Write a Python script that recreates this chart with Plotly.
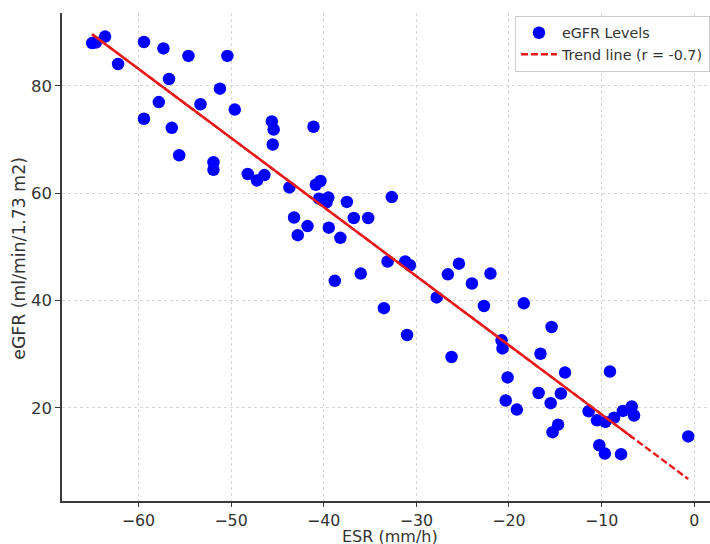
import numpy as np
import plotly.graph_objects as go

# ESR (mm/h) and eGFR (ml/min/1.73 m2) values
esr = [-65.0, -64.6, -63.6, -62.2, -59.4, -57.3, -54.6, -50.4, -56.7, -51.2,
       -57.8, -53.3, -49.6, -59.4, -56.4, -45.6, -45.4, -45.5, -55.6, -51.9,
       -51.9, -48.2, -47.2, -46.4, -43.7, -41.1, -40.85, -40.35, -40.5, -39.5,
       -39.7, -37.5, -32.65, -43.2, -41.75, -42.8, -36.75, -35.2, -39.45, -38.2,
       -33.1, -31.2, -30.7, -38.8, -36.0, -26.6, -25.4, -24.0, -22.0, -33.5,
       -27.8, -22.7, -18.4, -31.0, -15.4, -20.8, -20.7, -26.2, -16.6, -13.95,
       -20.15, -20.35, -16.8, -14.4, -15.5, -19.15, -9.1, -15.3, -14.7, -11.4,
       -10.5, -9.6, -8.65, -7.7, -6.75, -6.5, -10.25, -9.65, -7.9, -0.65]
egfr = [88.0, 88.1, 89.2, 84.1, 88.2, 87.0, 85.6, 85.6, 81.3, 79.5,
        77.0, 76.6, 75.6, 73.9, 72.2, 73.4, 71.9, 69.1, 67.1, 65.8,
        64.4, 63.6, 62.4, 63.4, 61.1, 72.4, 61.6, 62.3, 59.0, 59.2,
        58.3, 58.4, 59.3, 55.5, 53.9, 52.2, 55.4, 55.4, 53.6, 51.7,
        47.3, 47.3, 46.6, 43.7, 45.05, 44.9, 46.9, 43.2, 45.05, 38.6,
        40.6, 39.0, 39.5, 33.6, 35.1, 32.6, 31.1, 29.5, 30.1, 26.6,
        25.7, 21.4, 22.8, 22.7, 20.9, 19.7, 26.8, 15.5, 16.9, 19.4,
        17.7, 17.4, 18.2, 19.45, 20.3, 18.6, 13.05, 11.5, 11.4, 14.7]

# trend line parameters
trend_slope = -1.288
trend_intercept = 5.92
trend_label = "Trend line (r = -0.7)"
scatter_label = "eGFR Levels"

x_ticks = [-60, -50, -40, -30, -20, -10, 0]
y_ticks = [20, 40, 60, 80]

xs_sorted = sorted(esr)
x_lo, x_hi = xs_sorted[0], xs_sorted[-1]
x_solid_hi = xs_sorted[-2]
full_x = np.array([x_lo, x_hi])
solid_x = np.array([x_lo, x_solid_hi])

FONT = "DejaVu Sans"
TXT = "#333333"
AX = "#3a3a3a"

fig = go.Figure()
fig.add_trace(go.Scatter(
    x=esr, y=egfr, mode="markers", name=scatter_label,
    marker=dict(color="#0000ff", size=12.5, line=dict(width=0)),
))
fig.add_trace(go.Scatter(
    x=full_x, y=trend_slope * full_x + trend_intercept, mode="lines",
    name=trend_label, line=dict(color="#e8191a", width=2.4, dash="7px,3px"),
))
fig.add_trace(go.Scatter(
    x=solid_x, y=trend_slope * solid_x + trend_intercept, mode="lines",
    showlegend=False, hoverinfo="skip",
    line=dict(color="#e8191a", width=2.4),
))

axis_common = dict(
    showline=True, linecolor=AX, linewidth=1.5, mirror=False,
    ticks="outside", tickwidth=1.3, tickcolor=AX,
    showgrid=True, gridcolor="#d6d6d6", gridwidth=1, griddash="dot",
    zeroline=False,
)

fig.update_layout(
    width=710, height=544,
    margin=dict(l=62, r=0, t=13, b=43, autoexpand=False),
    paper_bgcolor="white", plot_bgcolor="white",
    font=dict(family=FONT, color=TXT),
    xaxis=dict(range=[-68.25, 1.70], tickvals=x_ticks, ticklen=4,
               ticktext=[str(v).replace("-", "\u2212") for v in x_ticks],
               tickfont=dict(family=FONT, size=15.8, color=TXT),
               **axis_common),
    yaxis=dict(range=[2.67, 93.6], tickvals=y_ticks, ticklen=5,
               tickfont=dict(family=FONT, size=16.5, color=TXT),
               **axis_common),
    showlegend=True,
    legend=dict(x=0.699, y=0.994, xanchor="left", yanchor="top",
                bgcolor="white", bordercolor="#cccccc", borderwidth=1,
                font=dict(family=FONT, size=14.3, color=TXT),
                tracegroupgap=0, itemwidth=36),
    annotations=[
        dict(text="ESR (mm/h)", xref="paper", yref="paper", x=0.506, y=-0.049,
             xanchor="center", yanchor="top", showarrow=False,
             font=dict(family=FONT, size=16, color=TXT)),
        dict(text="eGFR (ml/min/1.73 m2)", xref="paper", yref="paper",
             x=-0.066, y=0.497, xanchor="center", yanchor="middle", textangle=-90,
             showarrow=False, font=dict(family=FONT, size=17.3, color=TXT)),
    ],
)

fig.write_html("out.html")
